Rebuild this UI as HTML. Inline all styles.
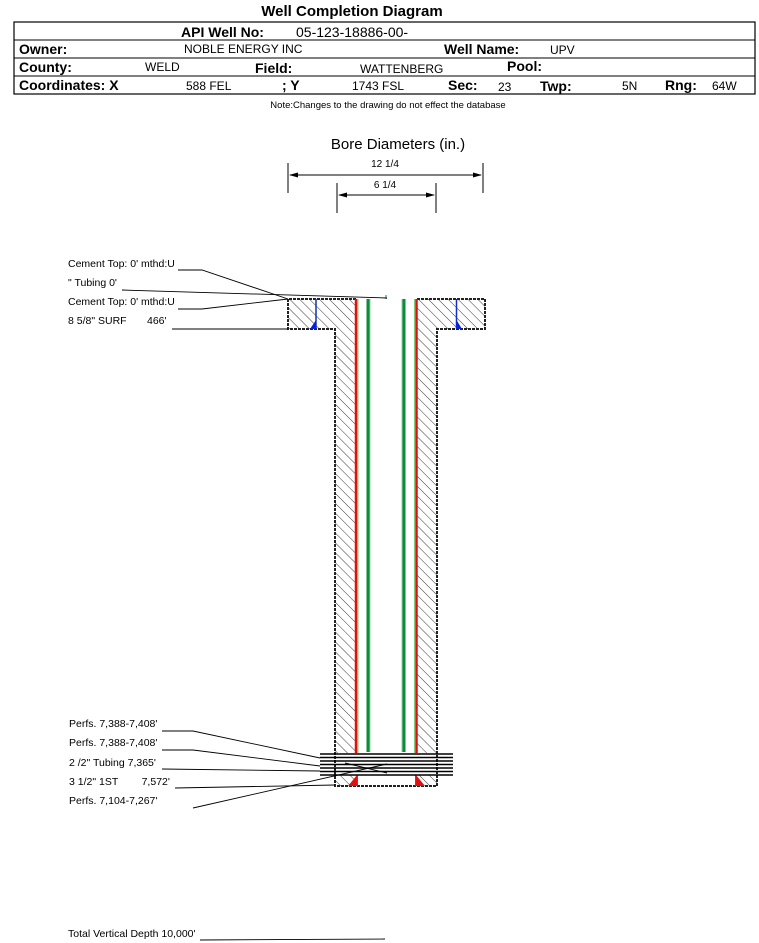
<!DOCTYPE html>
<html><head><meta charset="utf-8"><style>
html,body{margin:0;padding:0;background:#fff;}
body{width:759px;height:943px;position:relative;overflow:hidden;font-family:"Liberation Sans",Arial,sans-serif;}
</style></head><body>
<svg width="759" height="943" viewBox="0 0 759 943" xmlns="http://www.w3.org/2000/svg" style="position:absolute;left:0;top:0" font-family="Liberation Sans, Arial, sans-serif">
<defs>
<pattern id="h" patternUnits="userSpaceOnUse" width="7" height="7" patternTransform="rotate(-45)">
<rect width="7" height="7" fill="#fff"/><line x1="0" y1="0" x2="0" y2="7" stroke="#222" stroke-width="0.9"/>
</pattern>
</defs>
<text x="352" y="16" font-size="15" font-weight="bold" text-anchor="middle">Well Completion Diagram</text>
<rect x="14" y="22" width="741" height="72" fill="none" stroke="#000" stroke-width="1.2"/>
<line x1="14" y1="40" x2="755" y2="40" stroke="#000"/>
<line x1="14" y1="58" x2="755" y2="58" stroke="#000"/>
<line x1="14" y1="76" x2="755" y2="76" stroke="#000"/>
<g font-size="14" font-weight="bold">
<text x="181" y="37">API Well No:</text>
<text x="19" y="54">Owner:</text>
<text x="444" y="54">Well Name:</text>
<text x="19" y="72">County:</text>
<text x="255" y="73">Field:</text>
<text x="507" y="71">Pool:</text>
<text x="19" y="90">Coordinates: X</text>
<text x="282" y="90">; Y</text>
<text x="448" y="90">Sec:</text>
<text x="540" y="91">Twp:</text>
<text x="665" y="90">Rng:</text>
</g>
<text x="296" y="37" font-size="14">05-123-18886-00-</text>
<g font-size="12">
<text x="184" y="53">NOBLE ENERGY INC</text>
<text x="550" y="54">UPV</text>
<text x="145" y="71">WELD</text>
<text x="360" y="73">WATTENBERG</text>
<text x="186" y="90">588 FEL</text>
<text x="352" y="90">1743 FSL</text>
<text x="498" y="91">23</text>
<text x="622" y="90">5N</text>
<text x="712" y="90">64W</text>
</g>
<text x="388" y="108" font-size="9.5" text-anchor="middle">Note:Changes to the drawing do not effect the database</text>
<text x="398" y="149" font-size="15" text-anchor="middle">Bore Diameters (in.)</text>
<g stroke="#000" stroke-width="1">
<line x1="288" y1="163" x2="288" y2="193"/><line x1="483" y1="163" x2="483" y2="193"/>
<line x1="290" y1="175" x2="481" y2="175"/>
<line x1="337" y1="183" x2="337" y2="213"/><line x1="436" y1="183" x2="436" y2="213"/>
<line x1="339" y1="195" x2="434" y2="195"/>
</g>
<polygon points="289,175 298,172.5 298,177.5"/><polygon points="482,175 473,172.5 473,177.5"/>
<polygon points="338,195 347,192.5 347,197.5"/><polygon points="435,195 426,192.5 426,197.5"/>
<text x="385" y="167" font-size="10" text-anchor="middle">12 1/4</text>
<text x="385" y="188" font-size="10" text-anchor="middle">6 1/4</text>
<path d="M288,299 H356 V753 H335 V329 H288 Z" fill="url(#h)"/>
<path d="M417,299 H485 V329 H437 V753 H417 Z" fill="url(#h)"/>
<rect x="335" y="775" width="22" height="11" fill="url(#h)"/>
<rect x="416" y="775" width="21" height="11" fill="url(#h)"/>
<path d="M356,299 H288 V329 H335 V786 H437 V329 H485 V299 H417" fill="none" stroke="#222" stroke-width="2" stroke-dasharray="3,1"/>
<line x1="316" y1="299" x2="316" y2="329" stroke="#1030c0" stroke-width="1.5"/>
<polygon points="310,329 316,329 316,320" fill="#0a1ee0"/>
<line x1="456.5" y1="299" x2="456.5" y2="329" stroke="#1030c0" stroke-width="1.5"/>
<polygon points="456.5,320 456.5,329 462,329" fill="#0a1ee0"/>
<line x1="356" y1="299" x2="356" y2="753" stroke="#e01010" stroke-width="2.5"/>
<line x1="416.5" y1="299" x2="416.5" y2="753" stroke="#e01010" stroke-width="2.5"/>
<line x1="358" y1="299" x2="358" y2="753" stroke="#7ec87e" stroke-width="1"/>
<line x1="414.5" y1="299" x2="414.5" y2="753" stroke="#7ec87e" stroke-width="1"/>
<line x1="368" y1="299" x2="368" y2="752" stroke="#0f8a3a" stroke-width="3"/>
<line x1="404" y1="299" x2="404" y2="752" stroke="#0f8a3a" stroke-width="3"/>
<line x1="370" y1="299" x2="370" y2="752" stroke="#8ad0a0" stroke-width="1"/>
<line x1="402" y1="299" x2="402" y2="752" stroke="#8ad0a0" stroke-width="1"/>
<line x1="386" y1="295" x2="386" y2="299" stroke="#0f8a3a" stroke-width="1"/>
<polygon points="348,786 357,775 357,786" fill="#e01010"/>
<polygon points="416,775 416,786 425,786" fill="#e01010"/>
<line x1="357.5" y1="775" x2="357.5" y2="786" stroke="#0f8a3a" stroke-width="1"/>
<line x1="415.5" y1="775" x2="415.5" y2="786" stroke="#0f8a3a" stroke-width="1"/>
<g stroke="#000" stroke-width="1.6">
<line x1="320" y1="754" x2="453" y2="754"/>
<line x1="320" y1="757.5" x2="453" y2="757.5"/>
<line x1="320" y1="761" x2="453" y2="761"/>
<line x1="320" y1="764.5" x2="453" y2="764.5"/>
<line x1="320" y1="768" x2="453" y2="768"/>
<line x1="320" y1="771.5" x2="453" y2="771.5"/>
<line x1="320" y1="775" x2="453" y2="775"/>
</g>
<g stroke="#000" stroke-width="0.9" fill="none">
<polyline points="178,270 202,270 288,299"/>
<polyline points="122,290 387,298"/>
<polyline points="178,309 202,309 288,299"/>
<polyline points="172,329 288,329"/>
<polyline points="162,731 193,731 320,758"/>
<polyline points="162,750 193,750 320,766"/>
<polyline points="162,769 320,771"/>
<polyline points="345,763 387,773"/>
<polyline points="175,788 335,785"/>
<polyline points="193,808 387,764"/>
<polyline points="200,940 385,939"/>
</g>
<g font-size="10.5">
<text x="68" y="267">Cement Top: 0' mthd:U</text>
<text x="68" y="286">" Tubing 0'</text>
<text x="68" y="305">Cement Top: 0' mthd:U</text>
<text x="68" y="324">8 5/8" SURF&#160;&#160;&#160;&#160;&#160;&#160;&#160;466'</text>
<text x="69" y="727">Perfs. 7,388-7,408'</text>
<text x="69" y="746">Perfs. 7,388-7,408'</text>
<text x="69" y="766">2 /2" Tubing 7,365'</text>
<text x="69" y="785">3 1/2" 1ST&#160;&#160;&#160;&#160;&#160;&#160;&#160;&#160;7,572'</text>
<text x="69" y="804">Perfs. 7,104-7,267'</text>
<text x="68" y="937">Total Vertical Depth 10,000'</text>
</g>
</svg>
</body></html>
